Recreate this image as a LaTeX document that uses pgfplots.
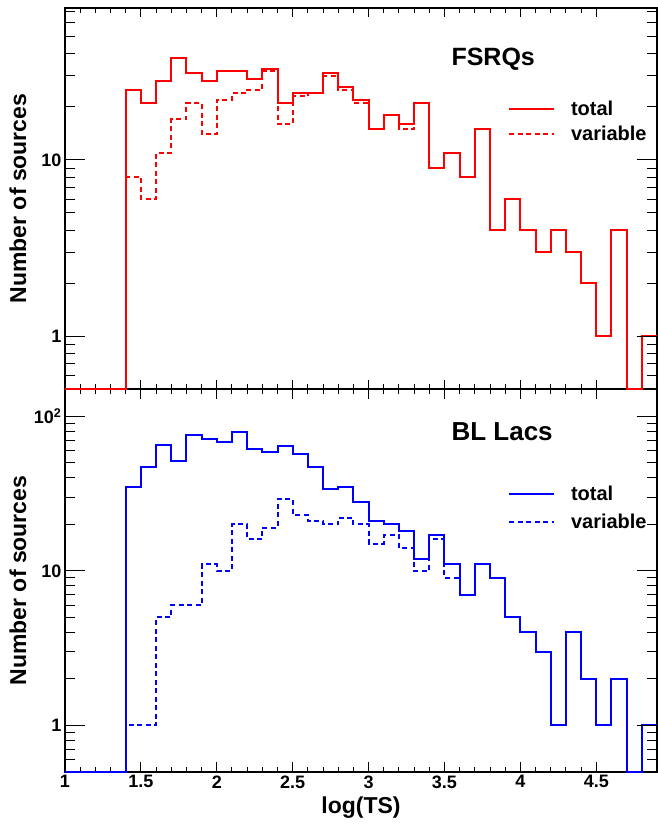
\documentclass[border=0pt]{standalone}
\usepackage{fontspec}
\setmainfont{Liberation Sans}
\usepackage{pgfplots}
\usepackage{pgfplotstable}
\pgfplotsset{compat=1.18}
\definecolor{rred}{rgb}{1,0,0}
\definecolor{rblue}{rgb}{0,0,1}

% zero-count bins are stored as 0.5 (= bottom of the log axis)
\pgfplotstableread{
x    tot  var
1.0  0.5  0.5
1.4  25   8
1.5  21   6
1.6  28   11
1.7  38   17
1.8  31   21
1.9  28   14
2.0  32   22
2.1  32   24
2.2  29   25
2.3  33   32
2.4  21   16
2.5  24   23
2.6  24   24
2.7  31   30
2.8  26   25
2.9  22   21
3.0  15   15
3.1  18   18
3.2  16   15
3.3  21   21
3.4  9    9
3.5  11   11
3.6  8    8
3.7  15   15
3.8  4    4
3.9  6    6
4.0  4    4
4.1  3    3
4.2  4    4
4.3  3    3
4.4  2    2
4.5  1    1
4.6  4    4
4.7  0.5  0.5
4.8  1    1
4.9  1    1
}\fsrq

\pgfplotstableread{
x    tot  var
1.0  0.5  0.5
1.4  35   1
1.5  47   1
1.6  65   5
1.7  51   6
1.8  76   6
1.9  71   11
2.0  68   10
2.1  79   20
2.2  61   16
2.3  59   19
2.4  64   29
2.5  57   23
2.6  47   21
2.7  34   20
2.8  35   22
2.9  28   20
3.0  21   15
3.1  20   17
3.2  18   14
3.3  12   10
3.4  17   16
3.5  11   9
3.6  7    7
3.7  11   11
3.8  9    9
3.9  5    5
4.0  4    4
4.1  3    3
4.2  1    1
4.3  4    4
4.4  2    2
4.5  1    1
4.6  2    2
4.7  0.5  0.5
4.8  1    1
4.9  1    1
}\bllac

\newcommand{\tickfont}{\bfseries\fontsize{18bp}{18bp}\selectfont}
\newcommand{\labfont}{\bfseries\fontsize{23bp}{23bp}\selectfont}
\newcommand{\legfont}{\bfseries\fontsize{20bp}{20bp}\selectfont}

\begin{document}
\begin{tikzpicture}
% ---------- bottom panel: BL Lacs ----------
\begin{axis}[at={(0,0)}, anchor=south west,
  scale only axis, width=592bp, height=383bp,
  xmin=1, xmax=4.9, ymode=log, ymin=0.5, ymax=150, clip=false,
  axis line style={line width=1.3bp},
  tick style={black, line width=1bp}, tick align=inside,
  /pgf/number format/assume math mode=true,
  tick label style={font=\tickfont},
  xtick={1,1.5,2,2.5,3,3.5,4,4.5}, minor x tick num=4, xtick pos=both,
  xticklabels={\textbf{1},\textbf{1.5},\textbf{2},\textbf{2.5},\textbf{3},\textbf{3.5},\textbf{4},\textbf{4.5}},
  ytick=\empty,
  major tick length=10bp, minor tick length=5.5bp,
  xlabel={log(TS)},
  xlabel style={font=\labfont, at={(axis description cs:0.5,0)}, anchor=north, yshift=-25bp, inner sep=0pt},
  legend cell align=left,
  legend style={draw=none, fill=none, at={(rel axis cs:0.748,0.689)}, anchor=west,
    inner sep=0pt, font=\legfont, row sep=12bp, nodes={inner sep=0pt}},
  legend image code/.code={\draw[#1] (0bp,0bp) -- (45bp,0bp); \path (61bp,0bp);}]
  \addlegendimage{rblue, line width=2bp}
  \addlegendentry{total}
  \addlegendimage{rblue, line width=2bp, dash pattern=on 5bp off 3.5bp}
  \addlegendentry{variable}
  \addplot[forget plot, const plot, rblue, line width=2bp, dash pattern=on 5bp off 3.5bp] table[x=x, y=var] {\bllac};
  \addplot[forget plot, const plot, rblue, line width=2bp] table[x=x, y=tot] {\bllac};
  \node[anchor=west, font=\bfseries\fontsize{26bp}{26bp}\selectfont] at (rel axis cs:0.647,0.888) {BL Lacs};
\end{axis}
\begin{axis}[at={(0,0)}, anchor=south west,
  scale only axis, width=592bp, height=383bp,
  xmin=1, xmax=4.9, ymode=log, ymin=0.5, ymax=150,
  axis line style={draw=none},
  tick style={black, line width=1bp}, tick align=inside,
  /pgf/number format/assume math mode=true,
  tick label style={font=\tickfont},
  xtick=\empty, ytick pos=both,
  major tick length=20bp, minor tick length=10bp,
  ytick={1,10,100}, yticklabels={\textbf{1},\textbf{10},\textbf{10\textsuperscript{2}}},
  minor ytick={0.6,0.7,0.8,0.9,2,3,4,5,6,7,8,9,20,30,40,50,60,70,80,90},
  ylabel={Number of sources},
  ylabel style={font=\labfont, at={(axis description cs:-0.0794,0.5)}, anchor=center}]
\end{axis}
% ---------- top panel: FSRQs ----------
\begin{axis}[at={(0,383bp)}, anchor=south west,
  scale only axis, width=592bp, height=381bp,
  xmin=1, xmax=4.9, ymode=log, ymin=0.5, ymax=73, clip=false,
  axis line style={line width=1.3bp},
  tick style={black, line width=1bp}, tick align=inside,
  xtick={1,1.5,2,2.5,3,3.5,4,4.5}, minor x tick num=4, xtick pos=both,
  xticklabels={}, ytick=\empty,
  major tick length=9bp, minor tick length=5bp,
  legend cell align=left,
  legend style={draw=none, fill=none, at={(rel axis cs:0.748,0.702)}, anchor=west,
    inner sep=0pt, font=\legfont, row sep=9bp, nodes={inner sep=0pt}},
  legend image code/.code={\draw[#1] (0bp,0bp) -- (45bp,0bp); \path (61bp,0bp);}]
  \addlegendimage{rred, line width=2bp}
  \addlegendentry{total}
  \addlegendimage{rred, line width=2bp, dash pattern=on 5bp off 3.5bp}
  \addlegendentry{variable}
  \addplot[forget plot, const plot, rred, line width=2bp, dash pattern=on 5bp off 3.5bp] table[x=x, y=var] {\fsrq};
  \addplot[forget plot, const plot, rred, line width=2bp] table[x=x, y=tot] {\fsrq};
  \node[anchor=west, font=\bfseries\fontsize{25bp}{25bp}\selectfont] at (rel axis cs:0.647,0.866) {FSRQs};
\end{axis}
\begin{axis}[at={(0,383bp)}, anchor=south west,
  scale only axis, width=592bp, height=381bp,
  xmin=1, xmax=4.9, ymode=log, ymin=0.5, ymax=73,
  axis line style={draw=none},
  tick style={black, line width=1bp}, tick align=inside,
  /pgf/number format/assume math mode=true,
  tick label style={font=\tickfont},
  xtick=\empty, ytick pos=both,
  major tick length=20bp, minor tick length=10bp,
  ytick={1,10}, yticklabels={\textbf{1},\textbf{10}},
  minor ytick={0.6,0.7,0.8,0.9,2,3,4,5,6,7,8,9,20,30,40,50,60,70},
  ylabel={Number of sources},
  ylabel style={font=\labfont, at={(axis description cs:-0.0794,0.5)}, anchor=center}]
\end{axis}
\pgfresetboundingbox
\useasboundingbox (-65bp,-53bp) rectangle (593bp,772bp);
\end{tikzpicture}
\end{document}
